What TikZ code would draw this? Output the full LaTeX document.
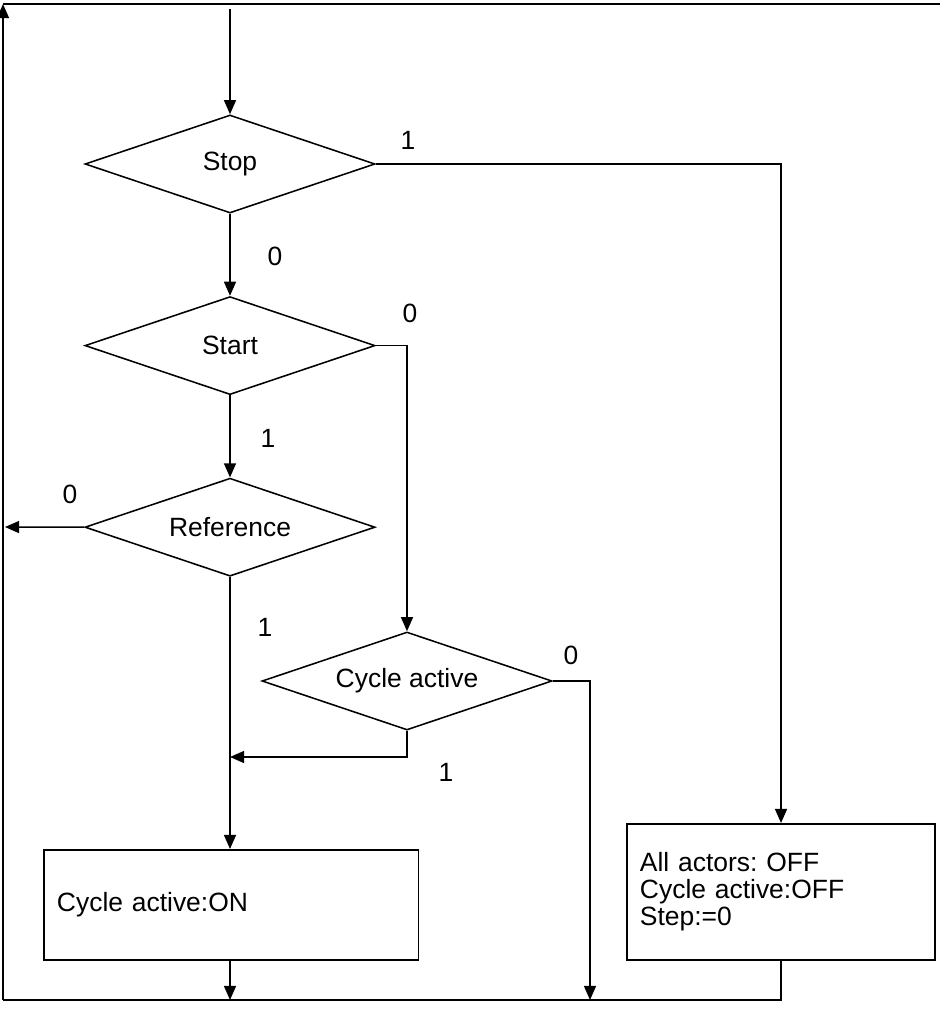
\documentclass[tikz,border=0pt]{standalone}
\usepackage{fontspec}
\setmainfont{Liberation Sans}
\usetikzlibrary{arrows.meta,shapes.geometric,positioning}

\begin{document}
\frenchspacing
\begin{tikzpicture}[x=0.025cm,y=-0.025cm,>={Triangle[length=10pt,width=8.5pt]},line width=1.1pt,
    font=\fontsize{18.8}{19.2}\selectfont,node distance=2.05cm,
    decision/.style={diamond,draw,aspect=2.96,minimum width=7.25cm,minimum height=2.45cm,inner sep=0pt},
    action/.style={rectangle,draw,anchor=north west,align=left,inner xsep=0.33cm}]
  \useasboundingbox (0,0) rectangle (940,1013);

  % decisions
  \node[decision] (stop) at (230,164) {Stop};
  \node[decision] (start) [below=of stop] {Start};
  \node[decision] (ref) [below=of start] {Reference};
  \node[decision] (cyc) at (407,681) {Cycle active};

  % actions
  \node[action,text width=8.7cm,minimum height=2.75cm] (on) at (43,849) {Cycle active:ON};
  \node[action,text width=7.05cm,minimum height=3.4cm] (off) at (626,823)
       {All actors: OFF\\Cycle active:OFF\\Step:=0\\[-2pt]};

  % frame corners
  \coordinate (in) at (230,9);
  \coordinate (tl) at (3,4);
  \coordinate (tr) at (940,4);
  \coordinate (bl) at (3,1000);
  \coordinate (exit) at (5,527);
  \coordinate (merge) at (230,757);

  \draw (tl) -- (tr);
  \draw[->] (bl) -- (tl);
  \draw (bl) -- (bl -| off.south) -- (off.south);
  \draw[->] (in) -- (stop.north);
  \draw[->] (stop.south) -- (start.north);
  \draw[->] (start.south) -- (ref.north);
  \draw[->] (ref.west) -- (exit);
  \draw[->] (ref.south) -- (on.north -| ref.south);
  \draw[->] (stop.east) -| (off.north);
  \draw[->] (start.east) -| (cyc.north);
  \draw[->] (cyc.south) |- (merge);
  \draw[->] (cyc.east) -| (590,1000);
  \draw[->] (on.south -| ref.south) -- (bl -| ref.south);

  % branch labels
  \node (l1) at (408,140) {1};
  \node (l2) at (275,256) {0};
  \node (l3) at (410,313) {0};
  \node (l4) at (268,438) {1};
  \node (l5) at (70,494) {0};
  \node (l6) at (265,627) {1};
  \node (l7) at (571,655) {0};
  \node (l8) at (446,772) {1};
\end{tikzpicture}
\end{document}
